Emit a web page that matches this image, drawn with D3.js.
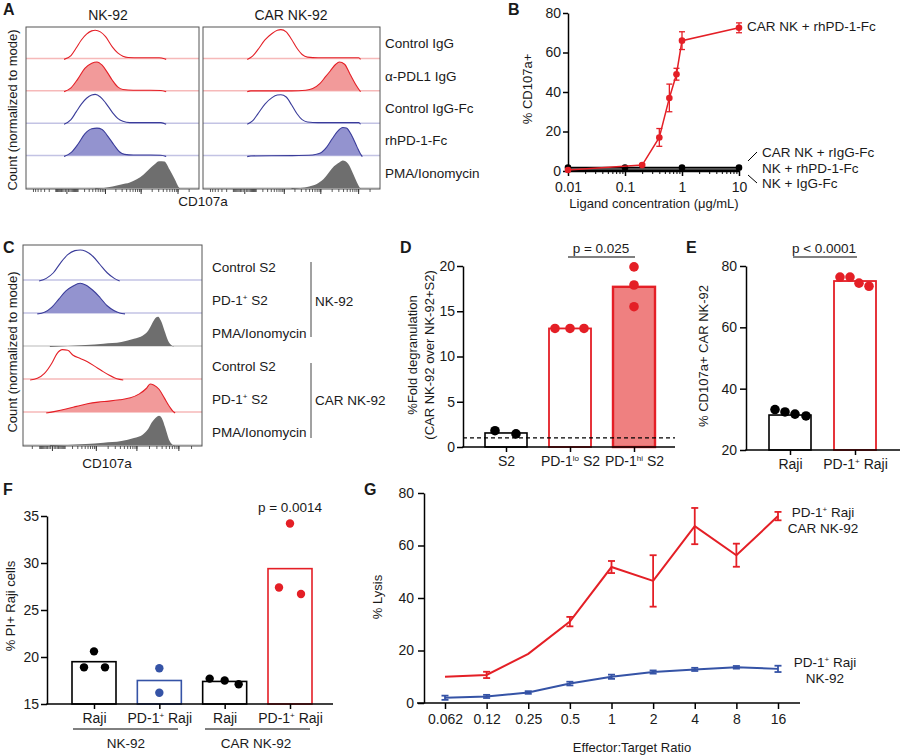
<!doctype html>
<html>
<head>
<meta charset="utf-8">
<title>CAR NK-92 degranulation and lysis</title>
<script src="https://d3js.org/d3.v7.min.js"></script>
<style>
  body { margin: 0; background: #fff; }
  text { fill: #1a1a1a; }
</style>
</head>
<body>
<svg id="fig" width="900" height="756"></svg>
<script>
// ---------------- data ----------------
// A: CD107a histograms. x = position along the CD107a axis (% of axis), y = count normalised to mode
const rowsA = ["Control IgG", "α-PDL1 IgG", "Control IgG-Fc", "rhPD-1-Fc", "PMA/Ionomycin"];
const headersA = ["NK-92", "CAR NK-92"];
const histNK92 = [
  [[22,0],[26,0.12],[29,0.35],[32,0.6],[35,0.78],[38,0.88],[40,0.9],[43,0.85],[46,0.7],[50,0.38],[53,0.2],[56,0.1],[59,0.06],[66,0.05],[77,0.05],[80,0.02],[81,0]],
  [[22,0],[26,0.12],[30,0.4],[34,0.72],[38,0.88],[41,0.92],[44,0.82],[47,0.6],[50,0.35],[53,0.15],[56,0.07],[62,0.05],[72,0.05],[78,0.04],[81,0]],
  [[22,0],[26,0.14],[29,0.38],[32,0.62],[35,0.8],[38,0.9],[40,0.92],[43,0.84],[46,0.66],[50,0.36],[53,0.18],[56,0.09],[60,0.05],[70,0.05],[78,0.05],[81,0]],
  [[22,0],[26,0.12],[30,0.38],[34,0.7],[38,0.86],[41,0.88],[44,0.84],[47,0.65],[51,0.35],[54,0.15],[57,0.07],[62,0.05],[72,0.05],[78,0.04],[81,0]],
  [[40,0],[45,0.03],[50,0.08],[55,0.14],[60,0.2],[64,0.3],[68,0.45],[71,0.6],[74,0.75],[77,0.86],[80,0.85],[83,0.6],[86,0.3],[88,0.08],[89,0]]
];
const histCarNK92 = [
  [[25,0],[28,0.1],[31,0.3],[35,0.6],[39,0.8],[42,0.9],[44,0.92],[47,0.85],[50,0.62],[53,0.35],[56,0.15],[59,0.07],[65,0.05],[80,0.05],[88,0.05],[89,0]],
  [[25,0],[27,0.03],[50,0.03],[58,0.05],[62,0.1],[66,0.25],[69,0.45],[72,0.65],[75,0.85],[77,0.92],[80,0.85],[83,0.55],[86,0.25],[88,0.08],[89,0]],
  [[25,0],[28,0.1],[31,0.32],[35,0.62],[39,0.82],[42,0.9],[44,0.91],[47,0.84],[50,0.6],[53,0.33],[56,0.14],[59,0.07],[65,0.05],[80,0.05],[88,0.05],[89,0]],
  [[25,0],[27,0.02],[50,0.03],[62,0.05],[66,0.1],[70,0.3],[73,0.55],[76,0.78],[79,0.9],[81,0.88],[84,0.65],[87,0.3],[89,0.08],[90,0]],
  [[50,0],[55,0.03],[60,0.08],[64,0.15],[68,0.3],[71,0.5],[74,0.7],[77,0.82],[79,0.88],[82,0.78],[85,0.45],[87,0.2],[89,0]]
];

// C: CD107a histograms after S2 co-culture
const rowsC = ["Control S2", " PD-1{+} S2", "PMA/Ionomycin", "Control S2", " PD-1{+} S2", "PMA/Ionomycin"];
const groupsC = ["NK-92", "CAR NK-92"];
const histC = [
  [[9,0],[13,0.08],[17,0.25],[21,0.55],[25,0.8],[29,0.92],[32,0.94],[35,0.9],[39,0.75],[43,0.5],[47,0.25],[51,0.08],[54,0]],
  [[8,0],[12,0.05],[16,0.2],[20,0.45],[24,0.7],[28,0.85],[32,0.93],[35,0.88],[39,0.72],[43,0.5],[47,0.25],[51,0.1],[54,0.03],[57,0]],
  [[15,0],[25,0.03],[35,0.06],[45,0.1],[55,0.15],[62,0.25],[67,0.35],[70,0.5],[72,0.7],[74,0.88],[75.5,0.92],[77,0.8],[79,0.5],[81,0.2],[83,0.05],[84,0]],
  [[4,0],[8,0.05],[12,0.2],[16,0.5],[19,0.8],[22,0.92],[25,0.9],[28,0.75],[32,0.65],[36,0.55],[40,0.42],[44,0.28],[48,0.15],[51,0.07],[54,0.02],[56,0]],
  [[13,0],[18,0.05],[24,0.12],[30,0.2],[36,0.28],[42,0.33],[48,0.36],[54,0.4],[60,0.46],[65,0.58],[69,0.75],[71,0.88],[73,0.85],[76,0.72],[79,0.45],[82,0.18],[84,0.04],[85,0]],
  [[15,0],[25,0.03],[35,0.06],[45,0.1],[55,0.15],[62,0.24],[67,0.35],[70,0.52],[72,0.72],[74,0.85],[76,0.92],[77.5,0.85],[79.5,0.55],[81.5,0.2],[83.5,0.04],[84.5,0]]
];

// B: dose response
const ligandConc = [0.01, 0.2, 0.4, 0.6, 0.8, 1, 10];
const carPd1Fc = [0.5, 3, 17, 37, 49, 66, 72.5];
const carPd1FcErr = [0.3, 0.6, 4.5, 7, 3, 4.5, 2.5];
const ctrlConc = [0.01, 0.1, 1, 10];
const carIgGFc = [1.7, 1.7, 1.7, 1.7];
const nkPd1Fc = [1.0, 1.0, 1.0, 1.0];
const nkIgGFc = [0.3, 0.3, 0.3, 0.3];
const ticksBx = [0.01, 0.1, 1, 10];
const tickLabelsBx = ["0.01", "0.1", "1", "10"];
const ticksBy = [0, 20, 40, 60, 80];
const legendB = ["CAR NK + rhPD-1-Fc", "CAR NK + rIgG-Fc", "NK + rhPD-1-Fc", "NK + IgG-Fc"];

// D: fold degranulation
const catsD = ["S2", "PD-1{lo} S2", "PD-1{hi} S2"];
const barsD = [1.55, 13.1, 17.7];
const pointsD = [[1.8, 1.45], [13.1, 13.1, 13.1], [19.9, 17.9, 15.5]];
const ticksDy = [0, 5, 10, 15, 20];

// E: % CD107a+ CAR NK-92
const catsE = ["Raji", "PD-1{+} Raji"];
const barsE = [31.4, 75.1];
const pointsE = [[33.2, 32.4, 31.7, 31.1], [76.4, 76.4, 74.4, 73.4]];
const ticksEy = [20, 40, 60, 80];

// F: % PI+ Raji cells
const catsF = ["Raji", "PD-1{+} Raji", "Raji ", "PD-1{+} Raji "];
const groupsF = ["NK-92", "CAR NK-92"];
const barsF = [19.5, 17.5, 17.4, 29.4];
const pointsF = [[18.9, 20.6, 18.9], [18.8, 16.2], [17.7, 17.5, 17.1], [27.4, 34.2, 26.7]];
const ticksFy = [15, 20, 25, 30, 35];

// G: lysis vs E:T ratio
const etRatios = ["0.062", "0.12", "0.25", "0.5", "1", "2", "4", "8", "16"];
const lysisCar = [10, 10.7, 18.7, 31, 51.8, 46.5, 67.4, 56.3, 71.2];
const lysisCarErr = [0, 1.2, 0, 1.8, 2.3, 9.8, 6.9, 4.4, 1.6];
const lysisNk = [2.0, 2.5, 4.0, 7.4, 10.0, 11.8, 12.8, 13.6, 13.0];
const lysisNkErr = [0.8, 0.6, 0.5, 0.7, 0.8, 0.6, 0.6, 0.5, 1.2];
const ticksGy = [0, 20, 40, 60, 80];
const legendG = [["PD-1{+} Raji", "CAR NK-92"], ["PD-1{+} Raji", "NK-92"]];

// ---------------- drawing ----------------
const FONT = '"Liberation Sans", Arial, Helvetica, sans-serif';
const RED = "#e41f26", RED_FILL = "#f29a9a", RED_BASE = "#f6b9b9";
const BLUE = "#3a3c9a", BLUE_FILL = "#9393cf", BLUE_BASE = "#c3c3e4";
const GRAY = "#6e6e6e", GRAY_BASE = "#d0d0d0";
const BLUE2 = "#3553a6";
const TICK_FS = 14;

const svg = d3.select("#fig")
  .attr("font-family", FONT)
  .attr("font-size", 13);
svg.append("rect").attr("width", 900).attr("height", 756).attr("fill", "#fff");

// text with {superscript} parts
function rich(sel, str) {
  sel.each(function() {
    const t = d3.select(this);
    t.text(null);
    str.split(/\{([^}]*)\}/).forEach((p, i) => {
      if (!p) return;
      if (i % 2) t.append("tspan").attr("dy", -5).attr("font-size", 8).text(p);
      else {
        const ts = t.append("tspan").text(p);
        if (i > 0) ts.attr("dy", 5);
      }
    });
  });
}

function label(x, y, str, anchor, fs) {
  const t = svg.append("text").attr("x", x).attr("y", y).attr("text-anchor", anchor || "start");
  if (fs) t.attr("font-size", fs);
  rich(t, str);
  return t;
}

function vlabel(x, y, str) {
  return svg.append("text")
    .attr("transform", `translate(${x},${y}) rotate(-90)`)
    .attr("text-anchor", "middle")
    .text(str);
}

function letter(x, y, s) {
  svg.append("text").attr("x", x).attr("y", y)
    .attr("font-weight", "bold").attr("font-size", 16).text(s);
}

function fixAxis(g, sw) {
  g.attr("font-size", TICK_FS).attr("font-family", null);
  g.selectAll(".domain, .tick line").attr("stroke", "#000").attr("stroke-width", sw);
  g.selectAll(".tick text").attr("fill", "#1a1a1a");
  return g;
}

// flow style box of stacked histograms
function histBox(x0, x1, y0, rowTop, y1, hists, looks, zeroMin) {
  const g = svg.append("g");
  const n = hists.length, rh = (y1 - rowTop) / n;
  const x = d3.scaleLinear().domain([0, 100]).range([x0, x1]);
  hists.forEach((h, i) => {
    const base = rowTop + rh * (i + 1);
    const y = d3.scaleLinear().domain([0, 1]).range([base, base - rh]);
    const lk = looks[i];
    g.append("line").attr("x1", x0).attr("x2", x1).attr("y1", base - 1).attr("y2", base - 1)
      .attr("stroke", lk.base).attr("stroke-width", 1.5);
    if (lk.fill) {
      g.append("path")
        .attr("d", d3.area().x(d => x(d[0])).y0(base - 1).y1(d => y(d[1])).curve(d3.curveMonotoneX)(h))
        .attr("fill", lk.fill);
    }
    if (lk.line) {
      g.append("path")
        .attr("d", d3.line().x(d => x(d[0])).y(d => y(d[1])).curve(d3.curveMonotoneX)(h))
        .attr("fill", "none").attr("stroke", lk.line).attr("stroke-width", 1.1);
    }
  });
  g.append("rect").attr("x", x0).attr("y", y0).attr("width", x1 - x0).attr("height", y1 - y0)
    .attr("fill", "none").attr("stroke", "#555").attr("stroke-width", 1);

  // biexponential-like CD107a axis ticks
  const s = d3.scaleSymlog().constant(100).domain([zeroMin, 262144]).range([x0 + 6, x1 - 6]);
  const minor = [];
  for (let v = -100; v >= zeroMin; v -= 100) minor.push(v);
  for (let v = 10; v < 100; v += 10) { minor.push(v); minor.push(-v); }
  for (let e = 100; e <= 1e5; e *= 10)
    for (let k = 1; k < 10; k++) if (k * e <= 262144) minor.push(k * e);
  const ax1 = g.append("g").attr("transform", `translate(0,${y1})`)
    .call(d3.axisBottom(s).tickValues(minor).tickSize(3).tickFormat(""));
  ax1.select(".domain").remove();
  ax1.selectAll(".tick line").attr("stroke", "#333").attr("stroke-width", 0.8);
  const ax2 = g.append("g").attr("transform", `translate(0,${y1})`)
    .call(d3.axisBottom(s).tickValues([0, 1e3, 1e4, 1e5]).tickSize(5).tickFormat(""));
  ax2.select(".domain").remove();
  ax2.selectAll(".tick line").attr("stroke", "#333").attr("stroke-width", 1);
}

// ---------- A ----------
letter(3, 15, "A");
const looksA = [
  { line: RED, base: RED_BASE },
  { line: RED, fill: RED_FILL, base: RED_BASE },
  { line: BLUE, base: BLUE_BASE },
  { line: BLUE, fill: BLUE_FILL, base: BLUE_BASE },
  { fill: GRAY, base: GRAY_BASE }
];
histBox(26, 199, 27, 27, 189, histNK92, looksA, -750);
histBox(203, 380, 27, 27, 189, histCarNK92, looksA, -750);
label(108, 20, headersA[0], "middle", 14);
label(291, 20, headersA[1], "middle", 14);
rowsA.forEach((r, i) => label(385, 27 + 32.4 * (i + 0.5) + 5, r, "start", 13.5));
label(203, 206, "CD107a", "middle", 13.5);
vlabel(17, 110, "Count (normalized to mode)");

// ---------- B ----------
letter(508, 15, "B");
const xB = d3.scaleLog().domain([0.01, 10]).range([568, 739]);
const yB = d3.scaleLinear().domain([0, 80]).range([171, 13]);
fixAxis(svg.append("g").attr("transform", "translate(568,0)")
  .call(d3.axisLeft(yB).tickValues(ticksBy).tickSize(5).tickPadding(2).tickSizeOuter(0)), 1.5);
fixAxis(svg.append("g").attr("transform", "translate(0,171)")
  .call(d3.axisBottom(xB).tickValues(ticksBx).tickSize(5).tickPadding(6).tickSizeOuter(0)
    .tickFormat((d, i) => tickLabelsBx[i])), 1.5);
const minorB = svg.append("g").attr("transform", "translate(0,171)")
  .call(d3.axisBottom(xB).tickValues(xB.ticks()).tickSize(3).tickFormat(""));
minorB.select(".domain").remove();
minorB.selectAll(".tick line").attr("stroke", "#000").attr("stroke-width", 1);
vlabel(532, 89, "% CD107a+");
label(654, 208, "Ligand concentration (μg/mL)", "middle");

const lineB = d3.line().x(d => xB(d[0])).y(d => yB(d[1]));
[[nkPd1Fc, "#8a8a8a"], [nkIgGFc, "#000"], [carIgGFc, "#000"]].forEach(([vals, c]) => {
  svg.append("path").attr("d", lineB(ctrlConc.map((c2, i) => [c2, vals[i]])))
    .attr("fill", "none").attr("stroke", c).attr("stroke-width", 1.8);
});
svg.append("g").selectAll("circle").data(ctrlConc).join("circle")
  .attr("cx", d => xB(d)).attr("cy", (d, i) => yB(carIgGFc[i])).attr("r", 3.3).attr("fill", "#000");

svg.append("path").attr("d", lineB(ligandConc.map((c, i) => [c, carPd1Fc[i]])))
  .attr("fill", "none").attr("stroke", RED).attr("stroke-width", 1.5);
const errB = svg.append("g").attr("stroke", RED).attr("stroke-width", 1.3);
ligandConc.forEach((c, i) => {
  const cx = xB(c), t = yB(carPd1Fc[i] + carPd1FcErr[i]), b = yB(carPd1Fc[i] - carPd1FcErr[i]);
  errB.append("line").attr("x1", cx).attr("x2", cx).attr("y1", t).attr("y2", b);
  errB.append("line").attr("x1", cx - 3).attr("x2", cx + 3).attr("y1", t).attr("y2", t);
  errB.append("line").attr("x1", cx - 3).attr("x2", cx + 3).attr("y1", b).attr("y2", b);
});
svg.append("g").selectAll("circle").data(ligandConc).join("circle")
  .attr("cx", d => xB(d)).attr("cy", (d, i) => yB(carPd1Fc[i])).attr("r", 3.3).attr("fill", RED);

label(747, 31, legendB[0], "start", 13.5);
label(762, 157, legendB[1], "start", 13.5);
label(762, 173, legendB[2], "start", 13.5);
label(762, 188, legendB[3], "start", 13.5);
svg.append("line").attr("x1", 748).attr("y1", 161).attr("x2", 757).attr("y2", 152).attr("stroke", "#000");
svg.append("line").attr("x1", 748).attr("y1", 175).attr("x2", 757).attr("y2", 183).attr("stroke", "#000");

// ---------- C ----------
letter(3, 253, "C");
const looksC = [
  { line: BLUE, base: BLUE_BASE },
  { line: BLUE, fill: BLUE_FILL, base: BLUE_BASE },
  { fill: GRAY, base: GRAY_BASE },
  { line: RED, base: RED_BASE },
  { line: RED, fill: RED_FILL, base: RED_BASE },
  { fill: GRAY, base: GRAY_BASE }
];
histBox(23, 202, 245, 248, 446, histC, looksC, -250);
rowsC.forEach((r, i) => label(212, 248 + 33 * (i + 0.5) + 7, r, "start", 13.5));
svg.append("line").attr("x1", 311).attr("x2", 311).attr("y1", 262).attr("y2", 337).attr("stroke", "#444");
svg.append("line").attr("x1", 311).attr("x2", 311).attr("y1", 363).attr("y2", 438).attr("stroke", "#444");
label(315, 306, groupsC[0], "start", 13.5);
label(315, 405, groupsC[1], "start", 13.5);
label(107, 468, "CD107a", "middle", 13.5);
vlabel(17, 352, "Count (normalized to mode)");

// ---------- bar + dot panels ----------
function barPanel(o) {
  const g = svg.append("g");
  fixAxis(g.append("g").attr("transform", `translate(${o.axisX},0)`)
    .call(d3.axisLeft(o.y).tickValues(o.yTicks).tickSize(6).tickPadding(o.pad || 2).tickSizeOuter(0)), 1.5);
  o.cats.forEach((c, i) => {
    const cx = o.x(c), v = o.bars[i], st = o.styles[i];
    g.append("rect").attr("x", cx - o.bw / 2).attr("width", o.bw)
      .attr("y", o.y(v)).attr("height", o.y.range()[0] - o.y(v))
      .attr("fill", st.fill || "#fff").attr("stroke", st.stroke).attr("stroke-width", st.sw || 1.6);
  });
  const xa = g.append("g").attr("transform", `translate(0,${o.y.range()[0]})`)
    .call(d3.axisBottom(o.x).tickSize(5).tickPadding(4).tickSizeOuter(0));
  fixAxis(xa, 1.5);
  xa.select(".domain").remove();
  xa.selectAll(".tick text").each(function(d) { rich(d3.select(this), d); });
  g.append("line").attr("x1", o.axisX - 0.75).attr("x2", o.axisEnd)
    .attr("y1", o.y.range()[0]).attr("y2", o.y.range()[0]).attr("stroke", "#000").attr("stroke-width", 1.5);
  if (o.dash) {
    g.append("line").attr("x1", o.axisX).attr("x2", o.dashEnd).attr("y1", o.y(o.dash)).attr("y2", o.y(o.dash))
      .attr("stroke", "#000").attr("stroke-width", 1.3).attr("stroke-dasharray", "4,3");
  }
  o.cats.forEach((c, i) => {
    g.append("g").selectAll("circle").data(o.pts[i]).join("circle")
      .attr("cx", (d, j) => o.x(c) + o.jitter[i][j])
      .attr("cy", d => o.y(d)).attr("r", o.r).attr("fill", o.styles[i].dot);
  });
  return g;
}

// ---------- D ----------
letter(400, 253, "D");
const yD = d3.scaleLinear().domain([0, 20]).range([447, 266]);
const xD = d3.scalePoint().domain(catsD).range([506, 634]);
barPanel({
  cats: catsD, bars: barsD, pts: pointsD, x: xD, y: yD, yTicks: ticksDy,
  axisX: 463, axisEnd: 675, bw: 42, r: 4.8, dash: 1, dashEnd: 675,
  jitter: [[-11, 10], [-15, 0, 14], [0, 0, 0]],
  styles: [
    { stroke: "#000", dot: "#000" },
    { stroke: RED, dot: RED, sw: 1.8 },
    { stroke: RED, fill: "#ef8080", dot: RED, sw: 2.4 }
  ]
});
svg.append("text").attr("transform", "translate(417,355) rotate(-90)").attr("text-anchor", "middle").text("%Fold degranulation");
svg.append("text").attr("transform", "translate(434,355) rotate(-90)").attr("text-anchor", "middle").text("(CAR NK-92 over NK-92+S2)");
svg.append("line").attr("x1", 568).attr("x2", 635).attr("y1", 257).attr("y2", 257).attr("stroke", "#000");
label(601, 253, "p = 0.025", "middle", 13.5);

// ---------- E ----------
letter(686, 253, "E");
const yE = d3.scaleLinear().domain([20, 80]).range([450, 266]);
const xE = d3.scalePoint().domain(catsE).range([790, 855]);
barPanel({
  cats: catsE, bars: barsE, pts: pointsE, x: xE, y: yE, yTicks: ticksEy,
  axisX: 746, axisEnd: 900, bw: 42, r: 4.8, pad: 3,
  jitter: [[-15, -5, 5, 16], [-15, -5, 4, 14]],
  styles: [{ stroke: "#000", dot: "#000" }, { stroke: RED, dot: RED, sw: 1.8 }]
});
vlabel(708, 356, "% CD107a+ CAR NK-92");
svg.append("line").attr("x1", 793).attr("x2", 857).attr("y1", 257).attr("y2", 257).attr("stroke", "#000");
label(824, 253, "p < 0.0001", "middle", 13.5);

// ---------- F ----------
letter(3, 495, "F");
const yF = d3.scaleLinear().domain([15, 35]).range([704, 516]);
const xF = d3.scalePoint().domain(catsF).range([94, 290]);
barPanel({
  cats: catsF, bars: barsF, pts: pointsF, x: xF, y: yF, yTicks: ticksFy,
  axisX: 47, axisEnd: 333, bw: 44, r: 4.2, pad: 2,
  jitter: [[-10, 0, 11], [0, 0], [-15, 0, 14], [-11, 0, 11]],
  styles: [
    { stroke: "#000", dot: "#000" },
    { stroke: BLUE2, dot: BLUE2 },
    { stroke: "#000", dot: "#000" },
    { stroke: RED, dot: RED }
  ]
});
vlabel(15, 606, "% PI+ Raji cells");
label(290, 512, "p = 0.0014", "middle", 13.5);
svg.append("line").attr("x1", 73).attr("x2", 178).attr("y1", 729).attr("y2", 729).attr("stroke", "#000");
svg.append("line").attr("x1", 205).attr("x2", 310).attr("y1", 729).attr("y2", 729).attr("stroke", "#000");
label(126, 748, groupsF[0], "middle", 13.5);
label(256, 748, groupsF[1], "middle", 13.5);

// ---------- G ----------
letter(364, 495, "G");
const yG = d3.scaleLinear().domain([0, 80]).range([703, 493]);
const xG = d3.scalePoint().domain(etRatios).range([445, 778]);
fixAxis(svg.append("g").attr("transform", "translate(424,0)")
  .call(d3.axisLeft(yG).tickValues(ticksGy).tickSize(6).tickPadding(4).tickSizeOuter(0)), 1.5);
const xaG = fixAxis(svg.append("g").attr("transform", "translate(0,703)")
  .call(d3.axisBottom(xG).tickSize(6).tickPadding(5).tickSizeOuter(0)), 1.5);
xaG.select(".domain").remove();
svg.append("line").attr("x1", 417).attr("x2", 800).attr("y1", 703).attr("y2", 703)
  .attr("stroke", "#000").attr("stroke-width", 1.5);
vlabel(382, 597, "% Lysis");
label(632, 752, "Effector:Target Ratio", "middle");

function seriesG(vals, errs, color) {
  svg.append("path").attr("d", d3.line().x((d, i) => xG(etRatios[i])).y(d => yG(d))(vals))
    .attr("fill", "none").attr("stroke", color).attr("stroke-width", 2);
  const eb = svg.append("g").attr("stroke", color).attr("stroke-width", 1.8);
  vals.forEach((v, i) => {
    if (!errs[i]) return;
    const cx = xG(etRatios[i]), t = yG(v + errs[i]), b = yG(v - errs[i]);
    eb.append("line").attr("x1", cx).attr("x2", cx).attr("y1", t).attr("y2", b);
    eb.append("line").attr("x1", cx - 3.5).attr("x2", cx + 3.5).attr("y1", t).attr("y2", t);
    eb.append("line").attr("x1", cx - 3.5).attr("x2", cx + 3.5).attr("y1", b).attr("y2", b);
  });
}
seriesG(lysisNk, lysisNkErr, BLUE2);
seriesG(lysisCar, lysisCarErr, RED);
label(823, 517, legendG[0][0], "middle", 13.5);
label(823, 533, legendG[0][1], "middle", 13.5);
label(825, 667, legendG[1][0], "middle", 13.5);
label(825, 683, legendG[1][1], "middle", 13.5);
</script>
</body>
</html>
